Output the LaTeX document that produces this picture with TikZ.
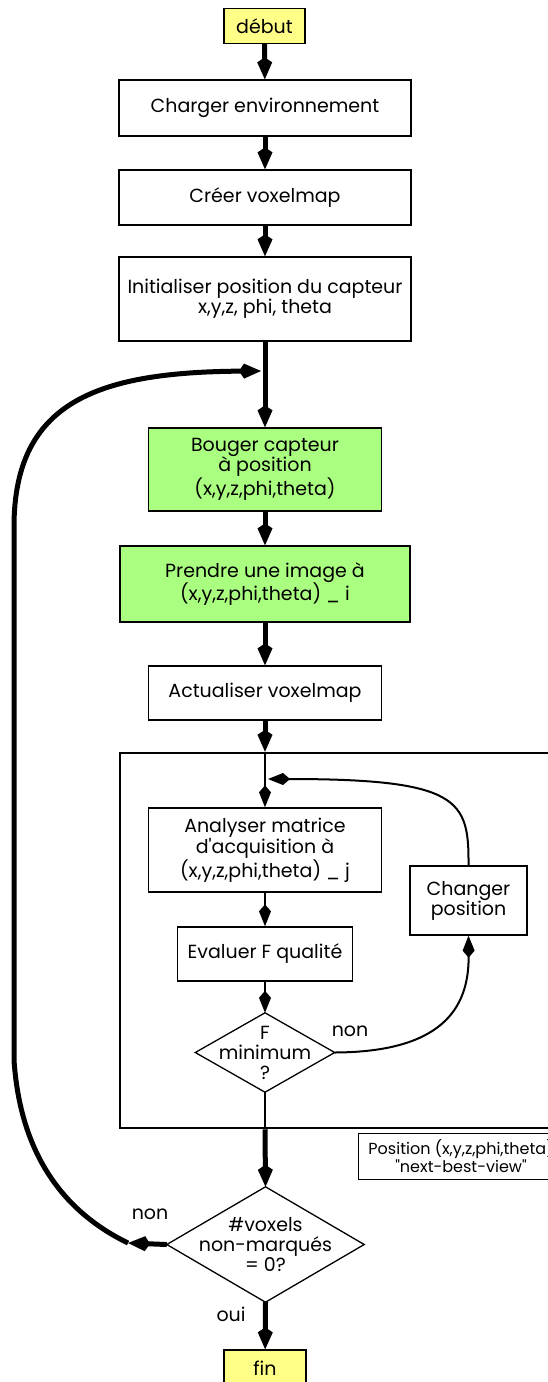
\documentclass[tikz,border=0pt]{standalone}
\usepackage{fontspec}
\setmainfont{Poppins}
\usepackage{tikz}
\usetikzlibrary{shapes.geometric, arrows.meta, positioning, calc}
\definecolor{nbvyellow}{HTML}{FFFF88}
\definecolor{nbvgreen}{HTML}{AAFF80}

\begin{document}
\begin{tikzpicture}[
    x=1pt, y=-1pt,
    font=\fontsize{19}{20}\selectfont,
    box/.style={rectangle, draw, line width=1.3pt, fill=white, align=center, inner sep=0pt},
    terminal/.style={box, fill=nbvyellow},
    action/.style={box, fill=nbvgreen},
    decision/.style={rectangle, align=center, inner sep=0pt},
    fat/.style={line width=5pt, -{Kite[length=22pt, width=15pt, inset=5pt]}},
    slim/.style={line width=2pt, -{Kite[length=22pt, width=12pt, inset=7pt]}},
    lbl/.style={inner sep=0pt}
]
\useasboundingbox (0,0) rectangle (547,1382);

% Setup
\node[terminal, minimum width=81pt, minimum height=35pt] (debut) at (264.5, 26) {début};
\node[box, minimum width=292pt, minimum height=56pt] (charger) at (265, 108) {Charger environnement};
\node[box, minimum width=292pt, minimum height=55pt] (creer) at (265, 197.5) {Créer voxelmap};
\node[box, minimum width=292pt, minimum height=84pt] (initpos) at (265, 299) {Initialiser position du capteur\\x,y,z, phi, theta};

% Acquisition
\node[action, minimum width=233pt, minimum height=83pt] (bouger) at (265, 469.5) {Bouger capteur\\à position\\(x,y,z,phi,theta)};
\node[action, minimum width=290pt, minimum height=76pt] (prendre) at (265, 584) {Prendre une image à\\(x,y,z,phi,theta) \_ i};
\node[box, minimum width=233pt, minimum height=54pt] (actual) at (265, 693) {Actualiser voxelmap};

% Next-best-view search
\node[draw, line width=2.5pt, minimum width=440pt, minimum height=375pt] (search) at (340, 940.5) {};
\node[box, minimum width=233pt, minimum height=84pt] (analyse) at (265, 850) {Analyser matrice\\d\textquotesingle acquisition à\\(x,y,z,phi,theta) \_ j};
\node[box, minimum width=175pt, minimum height=54pt] (evaluer) at (265, 954) {Evaluer F qualité};
\node[decision, minimum width=139pt, minimum height=79pt] (fmin) at (265, 1052.5) {F\\minimum\\?};
\node[box, minimum width=117pt, minimum height=69pt] (change) at (468.5, 900.5) {Changer\\position};
\node[box, line width=1pt, minimum width=206pt, minimum height=46pt, font=\fontsize{16}{18}\selectfont] (position) at (461, 1156) {Position (x,y,z,phi,theta)\\\textquotedbl next-best-view\textquotedbl};

% End
\node[decision, minimum width=197pt, minimum height=115pt] (vox) at (265.5, 1244.5) {\#voxels\\non-marqués\\= 0?};
\node[terminal, minimum width=82pt, minimum height=36pt] (fin) at (265, 1368) {fin};

\draw[line width=1.3pt] (fmin.north) -- (fmin.east) -- (fmin.south) -- (fmin.west) -- cycle;
\draw[line width=1.3pt] (vox.north) -- (vox.east) -- (vox.south) -- (vox.west) -- cycle;

\coordinate (loopin) at (261, 371);
\coordinate (feedin) at (268, 779);
\coordinate (nonstub) at (128, 1243);

% Connections
\draw[fat] (debut) -- (charger);
\draw[fat] (charger) -- (creer);
\draw[fat] (creer) -- (initpos);
\draw[fat] (initpos) -- (bouger);
\draw[fat] (bouger) -- (prendre);
\draw[fat] (prendre) -- (actual);
\draw[fat] (actual) -- (actual.south |- search.north);

\draw[slim] (actual.south |- search.north) -- (analyse);
\draw[slim] (analyse) -- (evaluer);
\draw[slim] (evaluer) -- (fmin.north);
\draw[slim] (fmin.east) .. controls (440, 1052) and (469, 1010) .. (change.south);
\draw[slim] (change.north) .. controls (469, 800) and (460, 779) .. (feedin);
\draw[line width=2pt] (fmin.south) -- (fmin.south |- search.south);

\draw[fat] (fmin.south |- search.south) -- (vox.north);
\draw[fat] (vox.south) -- (fin);
\draw[fat] (vox.west) -- (nonstub);
\draw[line width=5pt, -{Kite[length=22pt, width=15pt, inset=5pt]}] (nonstub) .. controls (60, 1210) and (20, 1150) .. (14, 1060)
    -- (14, 527) .. controls (14, 400) and (100, 372) .. (loopin);

\node[lbl] (nonf) at (350, 1031) {non};
\node[lbl] (nonv) at (150, 1214) {non};
\node[lbl] (oui) at (231, 1314) {oui};

\end{tikzpicture}
\end{document}
